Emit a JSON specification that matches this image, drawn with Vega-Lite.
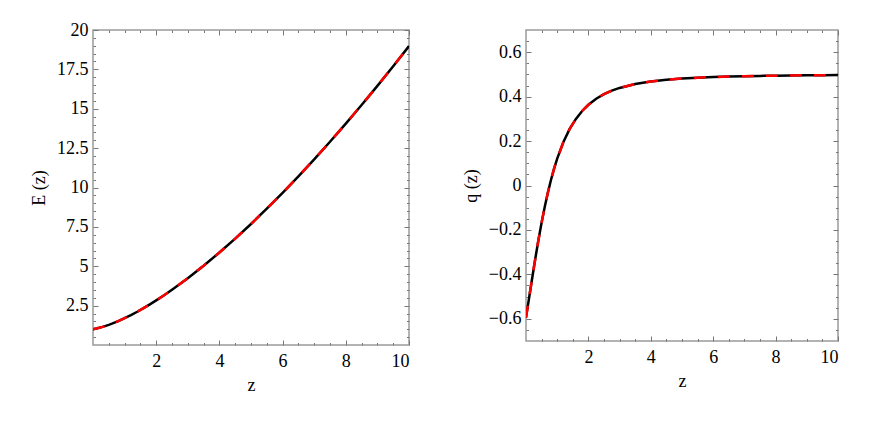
{
  "$schema": "https://vega.github.io/schema/vega-lite/v6.json",
  "padding": {"left": 29, "top": 20, "right": 10, "bottom": 5},
  "background": "white",
  "datasets": {
    "d": [
      {"z": 0, "E": 1.0, "q": -0.595},
      {"z": 0.1, "E": 1.04373, "q": -0.5052},
      {"z": 0.2, "E": 1.09388, "q": -0.4151},
      {"z": 0.3, "E": 1.1503, "q": -0.3275},
      {"z": 0.4, "E": 1.2128, "q": -0.2445},
      {"z": 0.5, "E": 1.28111, "q": -0.1672},
      {"z": 0.6, "E": 1.35496, "q": -0.0964},
      {"z": 0.7, "E": 1.43406, "q": -0.0325},
      {"z": 0.8, "E": 1.5181, "q": 0.0249},
      {"z": 0.9, "E": 1.60684, "q": 0.0759},
      {"z": 1.0, "E": 1.7, "q": 0.1211},
      {"z": 1.2, "E": 1.89867, "q": 0.1963},
      {"z": 1.4, "E": 2.11246, "q": 0.2546},
      {"z": 1.6, "E": 2.33998, "q": 0.3},
      {"z": 1.8, "E": 2.58013, "q": 0.3355},
      {"z": 2.0, "E": 2.83196, "q": 0.3635},
      {"z": 2.25, "E": 3.16205, "q": 0.3905},
      {"z": 2.5, "E": 3.50803, "q": 0.411},
      {"z": 2.75, "E": 3.86889, "q": 0.4268},
      {"z": 3.0, "E": 4.24382, "q": 0.4392},
      {"z": 3.5, "E": 5.03326, "q": 0.4568},
      {"z": 4.0, "E": 5.87197, "q": 0.4682},
      {"z": 4.5, "E": 6.75657, "q": 0.476},
      {"z": 5.0, "E": 7.6844, "q": 0.4815},
      {"z": 5.5, "E": 8.65325, "q": 0.4854},
      {"z": 6.0, "E": 9.66126, "q": 0.4883},
      {"z": 6.5, "E": 10.70683, "q": 0.4904},
      {"z": 7.0, "E": 11.78856, "q": 0.4921},
      {"z": 7.5, "E": 12.90518, "q": 0.4934},
      {"z": 8.0, "E": 14.0556, "q": 0.4945},
      {"z": 8.5, "E": 15.23881, "q": 0.4953},
      {"z": 9.0, "E": 16.45387, "q": 0.496},
      {"z": 9.5, "E": 17.69996, "q": 0.4965},
      {"z": 10.0, "E": 18.9763, "q": 0.497}
    ]
  },
  "config": {
    "view": {"stroke": "#9a9a9a", "strokeWidth": 1.5},
    "axis": {
      "domain": false,
      "grid": false,
      "titleFont": "Liberation Serif",
      "titleFontSize": 18,
      "titleFontWeight": "normal",
      "titleColor": "black",
      "tickColor": "#777777",
      "tickWidth": 1
    }
  },
  "spacing": 50,
  "hconcat": [
    {
      "width": 316,
      "height": 315,
      "data": {"name": "d"},
      "layer": [
        {
          "mark": {"type": "line", "color": "black", "strokeWidth": 2.5, "clip": true},
          "encoding": {
            "x": {"field": "z", "type": "quantitative", "scale": {"domain": [0, 10], "nice": false, "zero": false},
                  "axis": {"orient": "bottom", "title": "z", "values": [2, 4, 6, 8, 10], "format": ".1~f", "labelFont": "Liberation Serif", "labelFontSize": 18, "labelColor": "black", "tickSize": -5, "labelPadding": 12, "titlePadding": 6}},
            "y": {"field": "E", "type": "quantitative", "scale": {"domain": [0, 20], "nice": false, "zero": false},
                  "axis": {"orient": "left", "title": "E (z)", "values": [2.5, 5, 7.5, 10, 12.5, 15, 17.5, 20], "format": ".1~f", "labelFont": "Liberation Serif", "labelFontSize": 18, "labelColor": "black", "tickSize": -5, "labelPadding": 10, "titlePadding": 8}}
          }
        },
        {
          "mark": {"type": "line", "color": "red", "strokeWidth": 2.5, "strokeDash": [12, 12], "clip": true},
          "encoding": {
            "x": {"field": "z", "type": "quantitative", "scale": {"domain": [0, 10], "nice": false, "zero": false},
                  "axis": {"orient": "top", "title": null, "labels": false, "values": [2, 4, 6, 8, 10], "tickSize": -5}},
            "y": {"field": "E", "type": "quantitative", "scale": {"domain": [0, 20], "nice": false, "zero": false},
                  "axis": {"orient": "right", "title": null, "labels": false, "values": [2.5, 5, 7.5, 10, 12.5, 15, 17.5, 20], "tickSize": -5}}
          }
        },
        {
          "mark": {"type": "line", "opacity": 0},
          "encoding": {
            "x": {"field": "z", "type": "quantitative", "scale": {"domain": [0, 10], "nice": false, "zero": false},
                  "axis": {"orient": "bottom", "title": null, "labels": false, "values": [0.5, 1, 1.5, 2.5, 3, 3.5, 4.5, 5, 5.5, 6.5, 7, 7.5, 8.5, 9, 9.5], "tickSize": -2.5}},
            "y": {"field": "E", "type": "quantitative", "scale": {"domain": [0, 20], "nice": false, "zero": false},
                  "axis": {"orient": "left", "title": null, "labels": false, "values": [0.5, 1, 1.5, 2, 3, 3.5, 4, 4.5, 5.5, 6, 6.5, 7, 8, 8.5, 9, 9.5, 10.5, 11, 11.5, 12, 13, 13.5, 14, 14.5, 15.5, 16, 16.5, 17, 18, 18.5, 19, 19.5], "tickSize": -2.5}}
          }
        },
        {
          "mark": {"type": "line", "opacity": 0},
          "encoding": {
            "x": {"field": "z", "type": "quantitative", "scale": {"domain": [0, 10], "nice": false, "zero": false},
                  "axis": {"orient": "top", "title": null, "labels": false, "values": [0.5, 1, 1.5, 2.5, 3, 3.5, 4.5, 5, 5.5, 6.5, 7, 7.5, 8.5, 9, 9.5], "tickSize": -2.5}},
            "y": {"field": "E", "type": "quantitative", "scale": {"domain": [0, 20], "nice": false, "zero": false},
                  "axis": {"orient": "right", "title": null, "labels": false, "values": [0.5, 1, 1.5, 2, 3, 3.5, 4, 4.5, 5.5, 6, 6.5, 7, 8, 8.5, 9, 9.5, 10.5, 11, 11.5, 12, 13, 13.5, 14, 14.5, 15.5, 16, 16.5, 17, 18, 18.5, 19, 19.5], "tickSize": -2.5}}
          }
        }
      ],
      "resolve": {"axis": {"x": "independent", "y": "independent"}}
    },
    {
      "width": 312,
      "height": 311,
      "data": {"name": "d"},
      "layer": [
        {
          "mark": {"type": "line", "color": "black", "strokeWidth": 2.5, "clip": true},
          "encoding": {
            "x": {"field": "z", "type": "quantitative", "scale": {"domain": [0, 10], "nice": false, "zero": false},
                  "axis": {"orient": "bottom", "title": "z", "values": [2, 4, 6, 8, 10], "format": ".1~f", "labelFont": "Liberation Serif", "labelFontSize": 18, "labelColor": "black", "tickSize": -5, "labelPadding": 12, "titlePadding": 6}},
            "y": {"field": "q", "type": "quantitative", "scale": {"domain": [-0.7, 0.7], "nice": false, "zero": false},
                  "axis": {"orient": "left", "title": "q (z)", "values": [-0.6, -0.4, -0.2, 0, 0.2, 0.4, 0.6], "format": ".1~f", "labelFont": "Liberation Serif", "labelFontSize": 18, "labelColor": "black", "tickSize": -5, "labelPadding": 10, "titlePadding": 8}}
          }
        },
        {
          "mark": {"type": "line", "color": "red", "strokeWidth": 2.5, "strokeDash": [12, 12], "clip": true},
          "encoding": {
            "x": {"field": "z", "type": "quantitative", "scale": {"domain": [0, 10], "nice": false, "zero": false},
                  "axis": {"orient": "top", "title": null, "labels": false, "values": [2, 4, 6, 8, 10], "tickSize": -5}},
            "y": {"field": "q", "type": "quantitative", "scale": {"domain": [-0.7, 0.7], "nice": false, "zero": false},
                  "axis": {"orient": "right", "title": null, "labels": false, "values": [-0.6, -0.4, -0.2, 0, 0.2, 0.4, 0.6], "tickSize": -5}}
          }
        },
        {
          "mark": {"type": "line", "opacity": 0},
          "encoding": {
            "x": {"field": "z", "type": "quantitative", "scale": {"domain": [0, 10], "nice": false, "zero": false},
                  "axis": {"orient": "bottom", "title": null, "labels": false, "values": [0.5, 1, 1.5, 2.5, 3, 3.5, 4.5, 5, 5.5, 6.5, 7, 7.5, 8.5, 9, 9.5], "tickSize": -2.5}},
            "y": {"field": "q", "type": "quantitative", "scale": {"domain": [-0.7, 0.7], "nice": false, "zero": false},
                  "axis": {"orient": "left", "title": null, "labels": false, "values": [-0.65, -0.55, -0.5, -0.45, -0.35, -0.3, -0.25, -0.15, -0.1, -0.05, 0.05, 0.1, 0.15, 0.25, 0.3, 0.35, 0.45, 0.5, 0.55, 0.65], "tickSize": -2.5}}
          }
        },
        {
          "mark": {"type": "line", "opacity": 0},
          "encoding": {
            "x": {"field": "z", "type": "quantitative", "scale": {"domain": [0, 10], "nice": false, "zero": false},
                  "axis": {"orient": "top", "title": null, "labels": false, "values": [0.5, 1, 1.5, 2.5, 3, 3.5, 4.5, 5, 5.5, 6.5, 7, 7.5, 8.5, 9, 9.5], "tickSize": -2.5}},
            "y": {"field": "q", "type": "quantitative", "scale": {"domain": [-0.7, 0.7], "nice": false, "zero": false},
                  "axis": {"orient": "right", "title": null, "labels": false, "values": [-0.65, -0.55, -0.5, -0.45, -0.35, -0.3, -0.25, -0.15, -0.1, -0.05, 0.05, 0.1, 0.15, 0.25, 0.3, 0.35, 0.45, 0.5, 0.55, 0.65], "tickSize": -2.5}}
          }
        }
      ],
      "resolve": {"axis": {"x": "independent", "y": "independent"}}
    }
  ]
}
